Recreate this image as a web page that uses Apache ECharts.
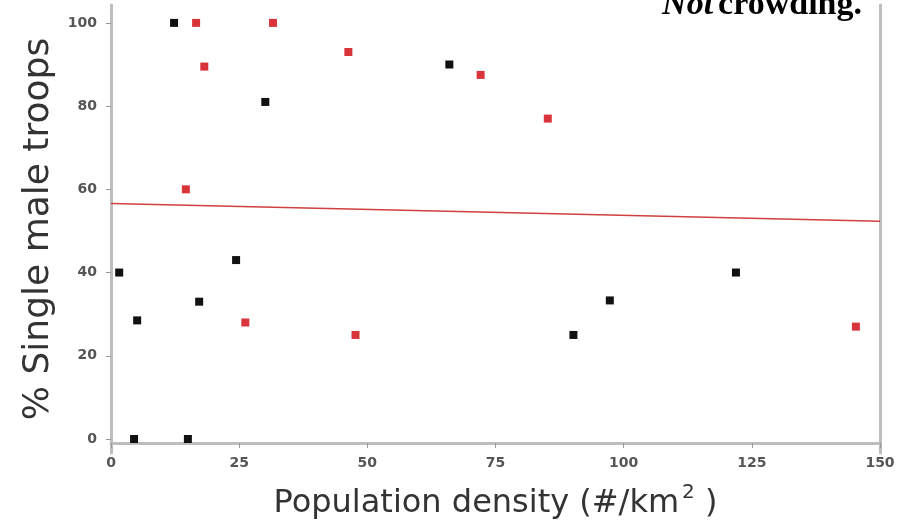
<!DOCTYPE html>
<html><head><meta charset="utf-8">
<script src="https://cdn.jsdelivr.net/npm/echarts@6/dist/echarts.min.js"></script>
<style>html,body{margin:0;padding:0;background:#fff}#c{width:911px;height:524px}</style>
</head><body><div id="c"></div>
<script>
// Data
const blackPoints = [[12.3,100],[30.1,81],[66,90],[1.6,40],[24.4,43],[5.1,28.5],[17.2,33],[4.5,0],[15,0],[90.2,25],[97.3,33.3],[121.9,40]];
const redPoints = [[16.6,100],[31.6,100],[18.2,89.5],[46.3,93],[72.1,87.5],[85.2,77],[14.6,60],[26.2,28],[47.7,25],[145.3,27]];
const fitLine = [[0,56.6],[150,52.3]];
const xTicks = [0,25,50,75,100,125,150];
const yTicks = [0,20,40,60,80,100];

const chart = echarts.init(document.getElementById('c'));
const axisGray = '#bdbdbd';
const tickFont = {fontFamily:'DejaVu Sans', fontSize:14, fontWeight:'bold', color:'#555'};
chart.setOption({
  animation:false,
  title:{
    text:'{i|Not} {b|crowding.}',
    right:44, top:-17,
    textStyle:{rich:{
      i:{fontFamily:'Liberation Serif', fontStyle:'italic', fontWeight:'bold', fontSize:34, color:'#000'},
      b:{fontFamily:'Liberation Serif', fontWeight:'bold', fontSize:34, color:'#000'}
    }}
  },
  grid:{left:111, right:31, top:5, bottom:71, containLabel:false, outerBoundsMode:'none'},
  xAxis:{
    type:'value', min:0, max:150, interval:25, offset:-10,
    axisLine:{show:true, onZero:false, lineStyle:{color:axisGray, width:3}},
    axisTick:{show:true, length:5, lineStyle:{color:'#999', width:1}},
    axisLabel:Object.assign({margin:13, customValues:xTicks}, tickFont),
    splitLine:{show:false},
    name:'{a|Population density (#/km}{s|2}{a| )}',
    nameLocation:'middle', nameGap:40,
    nameTextStyle:{rich:{
      a:{fontFamily:'DejaVu Sans', fontSize:32, color:'#333'},
      s:{fontFamily:'DejaVu Sans', fontSize:20, color:'#333', padding:[0,0,22,3]}
    }}
  },
  yAxis:[{
    type:'value', min:-3.37, max:104.3,
    axisLine:{show:true, onZero:false, lineStyle:{color:axisGray, width:3}},
    axisTick:{show:true, length:5, customValues:yTicks, lineStyle:{color:'#999', width:1}},
    axisLabel:Object.assign({margin:14, customValues:yTicks}, tickFont),
    splitLine:{show:false},
    name:'% Single male troops', nameLocation:'middle', nameGap:50,
    nameTextStyle:{fontFamily:'DejaVu Sans', fontSize:36, color:'#333'}
  },{
    type:'value', min:-3.37, max:104.3, position:'right',
    axisLine:{show:true, onZero:false, lineStyle:{color:axisGray, width:3}},
    axisTick:{show:false}, axisLabel:{show:false}, splitLine:{show:false}
  }],
  series:[
    {type:'line', data:fitLine, symbol:'none', lineStyle:{color:'#d0403e', width:1.5}, z:1},
    {type:'scatter', data:blackPoints, symbol:'rect', symbolSize:[8,8], itemStyle:{color:'#111', opacity:1}, z:3},
    {type:'scatter', data:redPoints, symbol:'rect', symbolSize:[8,8], itemStyle:{color:'#d8343a', opacity:1}, z:3}
  ]
});
</script></body></html>
